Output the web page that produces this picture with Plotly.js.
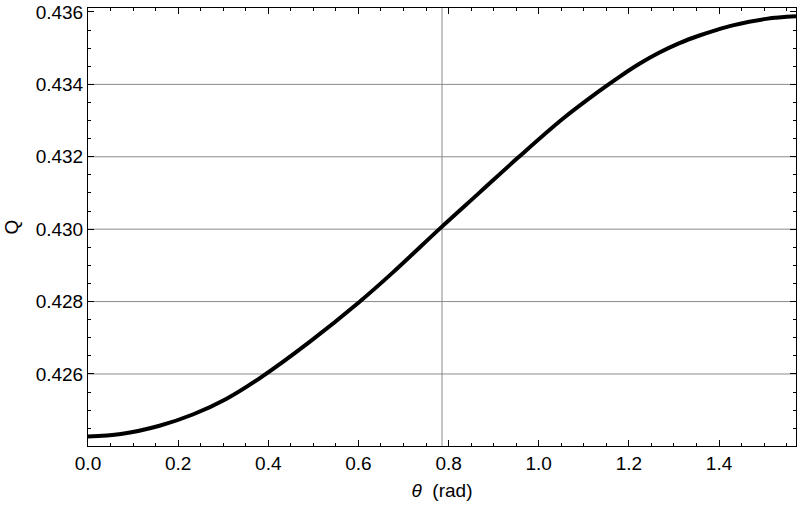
<!DOCTYPE html>
<html>
<head>
<meta charset="utf-8">
<script src="https://cdn.plot.ly/plotly-3.0.1.min.js"></script>
<style>html,body{margin:0;padding:0;background:#fff;}#chart{width:798px;height:506px;}</style>
</head>
<body>
<div id="chart"></div>
<script>
// Data
const theta = [0, 0.073, 0.1586, 0.2325, 0.3066, 0.3805, 0.491, 0.602, 0.676, 0.7835, 0.8686, 0.9536, 1.0534, 1.1347, 1.179, 1.2234, 1.2678, 1.3122, 1.3566, 1.3936, 1.4305, 1.5046, 1.5708];
const Q = [0.42427, 0.42434, 0.42457, 0.42488, 0.42531, 0.42588, 0.42688, 0.42799, 0.42880, 0.43005, 0.43101, 0.43197, 0.43305, 0.43382, 0.43421, 0.43457, 0.43488, 0.43514, 0.43535, 0.43550, 0.43563, 0.43581, 0.43588];
const yGrid = [0.426, 0.428, 0.430, 0.432, 0.434];
const xGrid = [Math.PI / 4];
const xTicks = [0, 0.2, 0.4, 0.6, 0.8, 1.0, 1.2, 1.4];
const xTickText = ['0.0', '0.2', '0.4', '0.6', '0.8', '1.0', '1.2', '1.4'];
const yTicks = [0.426, 0.428, 0.430, 0.432, 0.434, 0.436];
const yTickText = ['0.426', '0.428', '0.430', '0.432', '0.434', '0.436'];

const gridShapes = [];
yGrid.forEach(v => gridShapes.push({type: 'line', xref: 'paper', yref: 'y', x0: 0, x1: 1, y0: v, y1: v, line: {color: '#8a8a8a', width: 1}, layer: 'below'}));
xGrid.forEach(v => gridShapes.push({type: 'line', xref: 'x', yref: 'paper', x0: v, x1: v, y0: 0, y1: 1, line: {color: '#8a8a8a', width: 1}, layer: 'below'}));

const font = {family: 'Liberation Sans, Arial, sans-serif', size: 19, color: '#000'};

Plotly.newPlot('chart', [{
  x: theta, y: Q, type: 'scatter', mode: 'lines',
  line: {color: '#000', width: 4, shape: 'spline', smoothing: 1},
  hoverinfo: 'skip'
}], {
  width: 798, height: 506,
  margin: {l: 88, r: 2, t: 8, b: 60},
  paper_bgcolor: '#fff', plot_bgcolor: '#fff',
  showlegend: false,
  font: font,
  shapes: gridShapes,
  xaxis: {
    range: [0, Math.PI / 2], tickvals: xTicks, ticktext: xTickText,
    showgrid: false, zeroline: false,
    showline: true, linecolor: '#000', linewidth: 1, mirror: 'ticks',
    ticks: 'inside', ticklen: 6, tickcolor: '#000',
    minor: {dtick: 0.05, ticks: 'inside', ticklen: 3, tickcolor: '#000', showgrid: false},
    tickfont: font,
    title: {text: '<i>θ</i>  (rad)', font: font, standoff: 10}
  },
  yaxis: {
    range: [0.42401, 0.43611], tickvals: yTicks, ticktext: yTickText,
    showgrid: false, zeroline: false,
    showline: true, linecolor: '#000', linewidth: 1, mirror: 'ticks',
    ticks: 'inside', ticklen: 6, tickcolor: '#000',
    minor: {dtick: 0.0005, ticks: 'inside', ticklen: 3, tickcolor: '#000', showgrid: false},
    tickfont: font,
    title: {text: 'Q', font: font, standoff: 12}
  }
}, {displayModeBar: false, staticPlot: true});
</script>
</body>
</html>
